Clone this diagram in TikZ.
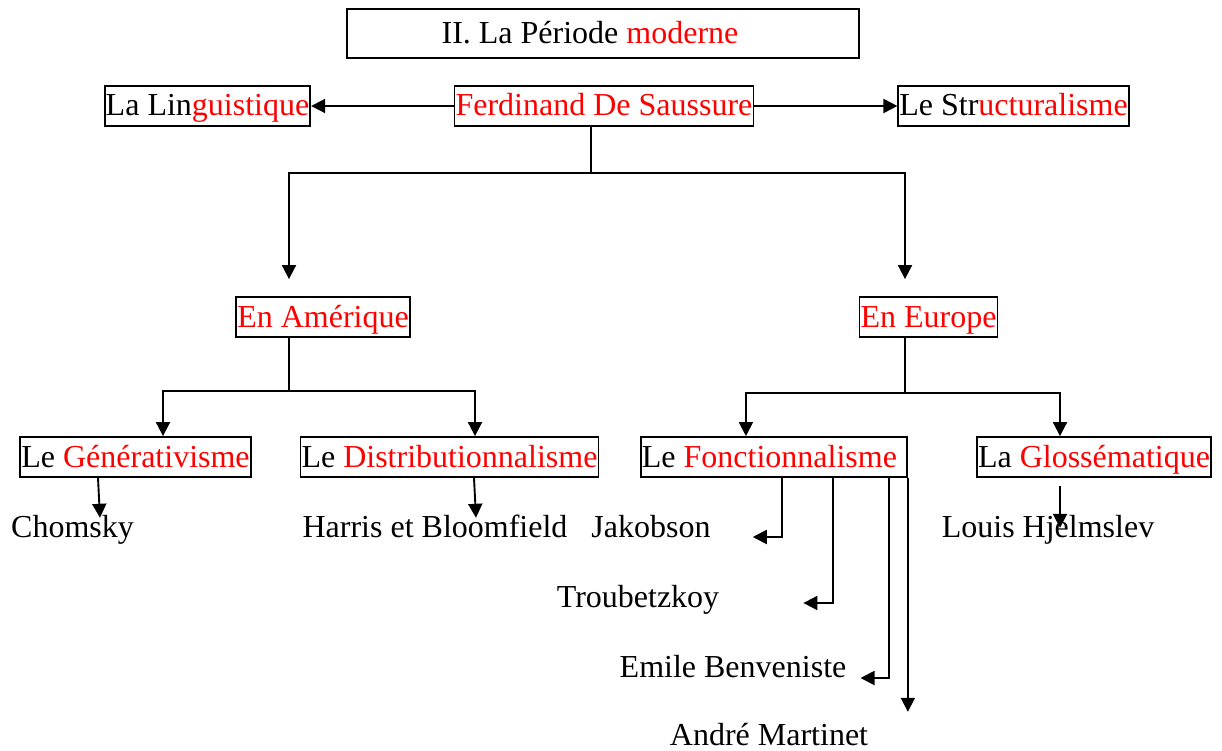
\documentclass[tikz,border=0pt]{standalone}
\usepackage{fontspec}
\setmainfont{Liberation Serif}
\usetikzlibrary{arrows.meta}

\begin{document}
\begin{tikzpicture}[x=1pt, y=-1pt, font=\fontsize{32}{38}\selectfont]
			\tikzstyle{boite}=[
			draw, line width=1.8pt, inner xsep=1pt, inner ysep=2pt,
			minimum height=40pt, text height=25pt, text depth=5pt
			]
			\tikzstyle{auteur}=[inner sep=2pt, text height=23pt, text depth=7pt]
			\tikzstyle{arr}=[line width=1.9pt, -{Triangle[length=14pt, width=14pt]}]
			\tikzstyle{stem}=[line width=1.1pt]
			
			\useasboundingbox (0,0) rectangle (1222,751);
			
			\node[boite, minimum width=512pt, minimum height=49pt] (tit) at (603,33.5) {II. La Période {\color{red}moderne}\hspace*{26pt}};
			
			\node[boite] (fds)   at (604,106)    {\color{red}Ferdinand De Saussure};
			\node[boite] (ling)  at (207.5,106)  {La Lin{\color{red}guistique}};
			\node[boite] (struc) at (1013.5,106) {Le Str{\color{red}ucturalisme}};
			
			\node[boite] (amer) at (323,317)   {\color{red}En Amérique};
			\node[boite] (euro) at (928.5,317) {\color{red}En Europe};
			
			\node[boite] (gen)  at (135.5,457) {Le {\color{red}Générativisme}};
			\node[boite] (dist) at (449.5,457) {Le {\color{red}Distributionnalisme}};
			\node[boite, anchor=west] (fonc) at (640,457) {Le {\color{red}Fonctionnalisme}\hspace*{9pt}};
			\node[boite] (glos) at (1094,457)  {La {\color{red}Glossématique}};
			
			\node[auteur] (chom) at (72.5,529) {Chomsky};
			\node[auteur] (harr) at (435,529)  {Harris et Bloomfield};
			\node[auteur] (jak)  at (651,529)  {Jakobson};
			\node[auteur] (trou) at (638,599)  {Troubetzkoy};
			\node[auteur] (benv) at (733,669)  {Emile Benveniste};
			\node[auteur] (mart) at (769,737)  {André Martinet};
			\node[auteur] (hjel) at (1048,529) {Louis Hjelmslev};
			
			% Saussure
			\draw[arr] (fds.west) -- (ling.east);
			\draw[arr] (fds.east) -- (struc.west);
			\draw[stem] ([xshift=-13pt]fds.south) -- ++(0,46) coordinate (fj);
			\draw[arr] (fj) -| ([xshift=-34pt, yshift=17pt]amer.north);
			\draw[arr] (fj) -| ([xshift=-23.5pt, yshift=17pt]euro.north);
			
			% Amerique
			\draw[stem] ([xshift=-34pt]amer.south) -- ++(0,53) coordinate (aj);
			\draw[arr] (aj) -| ([xshift=27.5pt]gen.north);
			\draw[arr] (aj) -| ([xshift=25.5pt]dist.north);
			\draw[arr] ([xshift=-37.5pt]gen.south) -- ([xshift=27.5pt, yshift=-6pt]chom.north);
			\draw[arr] ([xshift=24.5pt]dist.south) -- ([xshift=41pt, yshift=-6pt]harr.north);
			
			% Europe
			\draw[stem] ([xshift=-23.5pt]euro.south) -- ++(0,55) coordinate (ej);
			\draw[arr] (ej) -| ([xshift=-28pt]fonc.north);
			\draw[arr] (ej) -| ([xshift=-34pt]glos.north);
			\draw[arr] ([xshift=8pt]fonc.south) |- ([xshift=40pt, yshift=-8pt]jak.east);
			\draw[arr] ([xshift=59pt]fonc.south) |- ([xshift=82pt, yshift=-4pt]trou.east);
			\draw[arr] ([xshift=115pt]fonc.south) |- ([xshift=12pt, yshift=-9pt]benv.east);
			\draw[arr] (fonc.south east) -- ([yshift=8pt]fonc.south east |- mart.north);
			\draw[arr] ([xshift=-34pt, yshift=-8pt]glos.south) -- ([xshift=12pt, yshift=-16pt]hjel.north);
		\end{tikzpicture}
\end{document}
